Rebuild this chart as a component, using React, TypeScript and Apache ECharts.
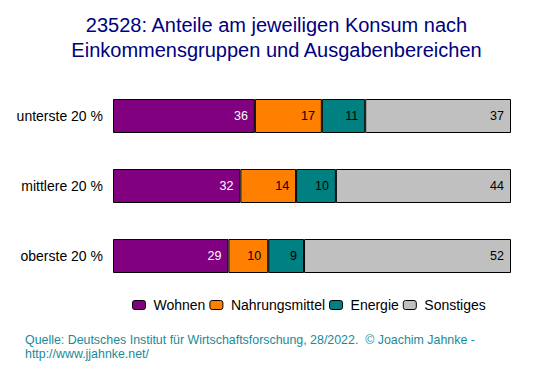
import React, { useEffect, useRef } from "react";
import * as echarts from "echarts";

const categories = ["unterste 20 %", "mittlere 20 %", "oberste 20 %"];
const seriesNames = ["Wohnen", "Nahrungsmittel", "Energie", "Sonstiges"];
const wohnen = [36, 32, 29];
const nahrung = [17, 14, 10];
const energie = [11, 10, 9];
const sonstiges = [37, 44, 52];
const colors = ["#800080", "#FF8000", "#008080", "#C0C0C0"];
const labelColors = ["#ffffff", "#000000", "#000000", "#000000"];

const FONT = "'Liberation Sans', Arial, sans-serif";

export default function App() {
  const ref = useRef<HTMLDivElement>(null);
  useEffect(() => {
    const chart = echarts.init(ref.current!, null, { renderer: "svg" });
    const raw = [wohnen, nahrung, energie, sonstiges];
    const totals = categories.map((_, i) => raw.reduce((s, a) => s + a[i], 0));
    const series = raw.map((arr, k) => ({
      name: seriesNames[k],
      type: "bar",
      stack: "t",
      barWidth: 34,
      data: arr.map((v, i) => ({ value: (v / totals[i]) * 100, raw: v })),
      itemStyle: { color: colors[k], borderColor: "#000", borderWidth: 1 },
      label: {
        show: true,
        position: "insideRight",
        color: labelColors[k],
        fontSize: 12.5,
        fontFamily: FONT,
        distance: 7,
        formatter: (p: any) => String(p.data.raw),
      },
    }));
    chart.setOption({
      animation: false,
      title: {
        text: "23528: Anteile am jeweiligen Konsum nach\nEinkommensgruppen und Ausgabenbereichen",
        left: "center",
        top: 7,
        textStyle: {
          color: "#000080",
          fontSize: 20,
          fontWeight: "normal",
          fontFamily: FONT,
          lineHeight: 25,
        },
      },
      legend: {
        top: 293,
        left: 127,
        itemWidth: 13,
        itemHeight: 9,
        itemGap: 4,
        textStyle: { color: "#000", fontSize: 14, fontFamily: FONT, padding: [0, 0, 0, 3] },
        itemStyle: { borderColor: "#000", borderWidth: 1 },
        data: seriesNames,
      },
      grid: { left: 113, right: 42, top: 81, height: 210, containLabel: false },
      xAxis: { type: "value", min: 0, max: 100, show: false },
      yAxis: {
        type: "category",
        data: categories,
        inverse: true,
        axisLine: { show: false },
        axisTick: { show: false },
        axisLabel: {
          color: "#000",
          fontSize: 14,
          margin: 10,
          fontFamily: FONT,
        },
      },
      series,
      graphic: [
        {
          type: "text",
          left: 25,
          top: 333,
          style: {
            text: "Quelle: Deutsches Institut für Wirtschaftsforschung, 28/2022.  © Joachim Jahnke -\nhttp://www.jjahnke.net/",
            fill: "#1a8a9a",
            fontSize: 12.4,
            lineHeight: 14,
            fontFamily: FONT,
          },
        },
      ],
    });
    return () => chart.dispose();
  }, []);
  return <div ref={ref} style={{ width: 553, height: 376, position: "absolute", left: 0, top: 0 }} />;
}
